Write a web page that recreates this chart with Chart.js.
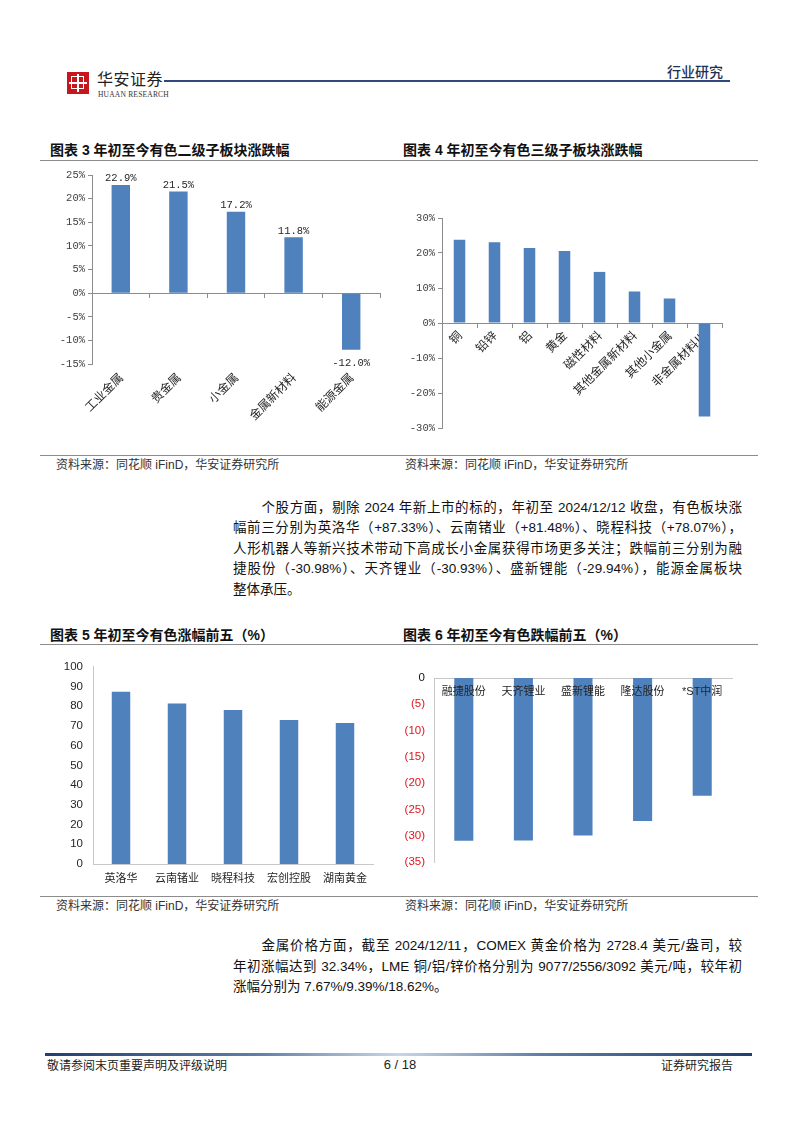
<!DOCTYPE html>
<html>
<head>
<meta charset="utf-8">
<script src="https://cdn.jsdelivr.net/npm/chart.js@4.4.1/dist/chart.umd.min.js"></script>
<style>
  body { margin: 0; background: #fff; }
  #page { position: relative; width: 802px; height: 1133px; overflow: hidden;
    font-family: "Liberation Sans", "Noto Sans CJK SC", sans-serif; color: #1a1a1a; }
  .abs { position: absolute; }
  .title { font-size: 14px; font-weight: 700; color: #111; line-height: 20px; white-space: nowrap; }
  .rule { height: 1.5px; background: #8c8c8c; }
  .src { font-size: 12px; color: #333; line-height: 16px; white-space: nowrap; }
  .src b { font-weight: 400; }
  .box { position: absolute; }
  .para { position: absolute; left: 233px; width: 509px; font-size: 13.5px; line-height: 20.5px; color: #111; }
  .para div { text-align: justify; text-align-last: justify; white-space: nowrap; }
  .para div.last { text-align-last: left; }
  .para div.first { padding-left: 28.5px; }
</style>
</head>
<body>
<div id="page">
  <!-- header -->
  <div class="abs" style="left:67px;top:72px;width:22px;height:22px;background:#c8161d;">
    <div class="abs" style="left:4px;top:4px;width:11px;height:11px;border:1.5px solid #fff;"></div>
    <div class="abs" style="left:10px;top:2px;width:2px;height:18px;background:#fff;"></div>
    <div class="abs" style="left:2px;top:10px;width:18px;height:2px;background:#fff;"></div>
  </div>
  <div class="abs" style="left:97px;top:70px;font-size:16px;line-height:20px;color:#222;letter-spacing:0.5px;">华安证券</div>
  <div class="abs" style="left:98px;top:90px;font-family:'Liberation Serif',serif;font-size:7.5px;line-height:9px;color:#333;letter-spacing:0.2px;">HUAAN RESEARCH</div>
  <div class="abs" style="left:164px;top:80px;width:566px;height:1.5px;background:#2f4a78;"></div>
  <div class="abs" style="left:667px;top:63px;font-size:14px;line-height:18px;color:#1f2f4f;font-weight:500;">行业研究</div>

  <!-- chart 3 / 4 frame -->
  <div class="abs title" style="left:50px;top:140px;">图表 3 年初至今有色二级子板块涨跌幅</div>
  <div class="abs title" style="left:403px;top:140px;">图表 4 年初至今有色三级子板块涨跌幅</div>
  <div class="abs rule" style="left:40px;top:159.5px;width:718px;"></div>
  <div class="box" style="left:45px;top:165px;width:345px;height:260px;"><canvas id="c3"></canvas></div>
  <div class="box" style="left:405px;top:200px;width:340px;height:240px;"><canvas id="c4"></canvas></div>
  <div class="abs rule" style="left:40px;top:454.5px;width:718px;"></div>
  <div class="abs src" style="left:56px;top:457px;">资料来源：同花顺 <b>iFinD</b>，华安证券研究所</div>
  <div class="abs src" style="left:405px;top:457px;">资料来源：同花顺 <b>iFinD</b>，华安证券研究所</div>

  <div class="para" style="top:497.75px;">
    <div class="first">个股方面，剔除 2024 年新上市的标的，年初至 2024/12/12 收盘，有色板块涨</div>
    <div>幅前三分别为英洛华（+87.33%）、云南锗业（+81.48%）、晓程科技（+78.07%），</div>
    <div>人形机器人等新兴技术带动下高成长小金属获得市场更多关注；跌幅前三分别为融</div>
    <div>捷股份（-30.98%）、天齐锂业（-30.93%）、盛新锂能（-29.94%），能源金属板块</div>
    <div class="last">整体承压。</div>
  </div>

  <!-- chart 5 / 6 frame -->
  <div class="abs title" style="left:50px;top:625px;">图表 5 年初至今有色涨幅前五（%）</div>
  <div class="abs title" style="left:403px;top:625px;">图表 6 年初至今有色跌幅前五（%）</div>
  <div class="abs rule" style="left:40px;top:643.5px;width:718px;"></div>
  <div class="box" style="left:45px;top:650px;width:345px;height:245px;"><canvas id="c5"></canvas></div>
  <div class="box" style="left:405px;top:660px;width:345px;height:220px;"><canvas id="c6"></canvas></div>
  <div class="abs rule" style="left:40px;top:895.5px;width:718px;"></div>
  <div class="abs src" style="left:56px;top:898px;">资料来源：同花顺 <b>iFinD</b>，华安证券研究所</div>
  <div class="abs src" style="left:405px;top:898px;">资料来源：同花顺 <b>iFinD</b>，华安证券研究所</div>

  <div class="para" style="top:936px;">
    <div class="first">金属价格方面，截至 2024/12/11，COMEX 黄金价格为 2728.4 美元/盎司，较</div>
    <div>年初涨幅达到 32.34%，LME 铜/铝/锌价格分别为 9077/2556/3092 美元/吨，较年初</div>
    <div class="last">涨幅分别为 7.67%/9.39%/18.62%。</div>
  </div>

  <!-- footer -->
  <div class="abs" style="left:45px;top:1053px;width:707px;height:2.5px;background:linear-gradient(90deg,#1f3f6f 0%,#5f7fa8 30%,#c9d5e6 50%,#5f7fa8 70%,#1f3f6f 100%);"></div>
  <div class="abs" style="left:47px;top:1058px;font-size:12px;line-height:16px;color:#222;">敬请参阅末页重要声明及评级说明</div>
  <div class="abs" style="left:378px;top:1057px;width:44px;text-align:center;font-size:13px;line-height:16px;color:#222;">6 / 18</div>
  <div class="abs" style="left:661px;top:1058px;font-size:12px;line-height:16px;color:#222;">证券研究报告</div>
</div>

<script>
// 图表3 二级子板块
const sub2Labels = ["工业金属", "贵金属", "小金属", "金属新材料", "能源金属"];
const sub2Values = [22.9, 21.5, 17.2, 11.8, -12.0];
const sub2Ticks = { min: -15, max: 25, step: 5 };

// 图表4 三级子板块
const sub3Labels = ["铜", "铅锌", "铝", "黄金", "磁性材料", "其他金属新材料", "其他小金属", "非金属材料Ⅲ"];
const sub3Values = [23.8, 23.1, 21.4, 20.6, 14.6, 9.0, 7.0, -26.7];
const sub3Ticks = { min: -30, max: 30, step: 10 };

// 图表5 涨幅前五
const gainLabels = ["英洛华", "云南锗业", "晓程科技", "宏创控股", "湖南黄金"];
const gainValues = [87.33, 81.48, 78.07, 73.1, 71.6];
const gainTicks = { min: 0, max: 100, step: 10 };

// 图表6 跌幅前五
const lossLabels = ["融捷股份", "天齐锂业", "盛新锂能", "隆达股份", "*ST中润"];
const lossValues = [-30.98, -30.93, -29.94, -27.2, -22.4];
const lossTicks = { min: -35, max: 0, step: 5 };

const BLUE = "#4f81bd";
const AXIS = "#8c8c8c";
const LIGHT_AXIS = "#c8c8c8";
const MONO = { family: '"Liberation Mono", "DejaVu Sans Mono", monospace', size: 10.5 };
const SANS = { family: '"Liberation Sans", Arial, sans-serif', size: 11.5 };
const CJK12 = { family: '"Noto Sans CJK SC", sans-serif', size: 12 };
const CJK11 = { family: '"Liberation Sans", "Noto Sans CJK SC", sans-serif', size: 11 };

Chart.defaults.font.family = '"Liberation Sans", "Noto Sans CJK SC", sans-serif';
Chart.defaults.animation = false;
Chart.defaults.plugins.legend.display = false;
Chart.defaults.plugins.tooltip.enabled = false;

const barValueLabels = {
  id: "barValueLabels",
  afterDatasetsDraw(chart) {
    const { ctx } = chart;
    const values = chart.data.datasets[0].data;
    ctx.save();
    ctx.font = `${MONO.size}px ${MONO.family}`;
    ctx.fillStyle = "#262626";
    ctx.textAlign = "center";
    chart.getDatasetMeta(0).data.forEach((bar, i) => {
      const v = values[i];
      const txt = v.toFixed(1) + "%";
      if (v >= 0) {
        ctx.textBaseline = "bottom";
        ctx.fillText(txt, bar.x, bar.y - 1);
      } else {
        ctx.textBaseline = "top";
        ctx.fillText(txt, bar.x, bar.y + 8);
      }
    });
    ctx.restore();
  },
};

function barSet(values, pct) {
  return [{ data: values, backgroundColor: BLUE, categoryPercentage: 1, barPercentage: pct, xAxisID: "x" }];
}

new Chart(document.getElementById("c3"), {
  type: "bar",
  data: { labels: sub2Labels, datasets: barSet(sub2Values, 0.32) },
  options: {
    responsive: true,
    maintainAspectRatio: false,
    layout: { padding: { top: 10, right: 10, left: 0, bottom: 0 } },
    scales: {
      y: {
        min: sub2Ticks.min, max: sub2Ticks.max,
        ticks: { stepSize: sub2Ticks.step, callback: (v) => v + "%", font: MONO, color: "#404040", padding: 3 },
        grid: { drawOnChartArea: false, tickLength: 4, color: AXIS },
        border: { color: AXIS },
        afterFit: (s) => { s.width = 47; },
      },
      x: {
        position: { y: 0 },
        ticks: { display: false },
        grid: { drawOnChartArea: false, tickLength: 4, color: AXIS },
        border: { color: AXIS },
      },
      xb: {
        type: "category",
        position: "bottom",
        grid: { display: false, drawTicks: false },
        border: { display: false },
        ticks: { minRotation: 45, maxRotation: 45, autoSkip: false, font: CJK12, color: "#262626", padding: 6 },
        afterFit: (s) => { s.height = 61; },
      },
    },
  },
  plugins: [barValueLabels],
});

new Chart(document.getElementById("c4"), {
  type: "bar",
  data: { labels: sub3Labels, datasets: barSet(sub3Values, 0.33) },
  options: {
    responsive: true,
    maintainAspectRatio: false,
    layout: { padding: { top: 18, right: 23, left: 0, bottom: 12 } },
    scales: {
      y: {
        min: sub3Ticks.min, max: sub3Ticks.max,
        ticks: { stepSize: sub3Ticks.step, callback: (v) => v + "%", font: MONO, color: "#404040", padding: 3 },
        grid: { drawOnChartArea: false, tickLength: 4, color: AXIS },
        border: { color: AXIS },
        afterFit: (s) => { s.width = 37; },
      },
      x: {
        position: { y: 0 },
        grid: { drawOnChartArea: false, tickLength: 4, color: AXIS },
        border: { color: AXIS },
        ticks: { minRotation: 45, maxRotation: 45, autoSkip: false, font: CJK12, color: "#262626", padding: 1 },
      },
    },
  },
});

new Chart(document.getElementById("c5"), {
  type: "bar",
  data: { labels: gainLabels, datasets: barSet(gainValues, 0.33) },
  options: {
    responsive: true,
    maintainAspectRatio: false,
    layout: { padding: { top: 11, right: 17, left: 0, bottom: 0 } },
    scales: {
      y: {
        min: gainTicks.min, max: gainTicks.max,
        ticks: { stepSize: gainTicks.step, font: SANS, color: "#262626", padding: 10 },
        grid: { display: false, drawTicks: false },
        border: { color: LIGHT_AXIS },
        afterFit: (s) => { s.width = 48; },
      },
      x: {
        grid: { display: false, drawTicks: false },
        border: { color: LIGHT_AXIS },
        ticks: { font: CJK11, color: "#262626", padding: 8, maxRotation: 0, autoSkip: false },
        afterFit: (s) => { s.height = 31; },
      },
    },
  },
});

new Chart(document.getElementById("c6"), {
  type: "bar",
  data: { labels: lossLabels, datasets: barSet(lossValues, 0.32) },
  options: {
    responsive: true,
    maintainAspectRatio: false,
    layout: { padding: { top: 18, right: 18, left: 0, bottom: 18 } },
    scales: {
      y: {
        min: lossTicks.min, max: lossTicks.max,
        ticks: {
          stepSize: lossTicks.step,
          callback: (v) => (v === 0 ? "0" : "(" + -v + ")"),
          color: (c) => (c.tick.value === 0 ? "#111" : "#e0141e"),
          font: SANS,
          padding: 9,
        },
        grid: { display: false, drawTicks: false },
        border: { color: LIGHT_AXIS },
        afterFit: (s) => { s.width = 29; },
      },
      x: {
        position: { y: 0 },
        grid: { display: false, drawTicks: false },
        border: { color: LIGHT_AXIS },
        ticks: { z: 1, font: CJK11, color: "#262626", padding: 7, maxRotation: 0, autoSkip: false },
      },
    },
  },
});
</script>
</body>
</html>
